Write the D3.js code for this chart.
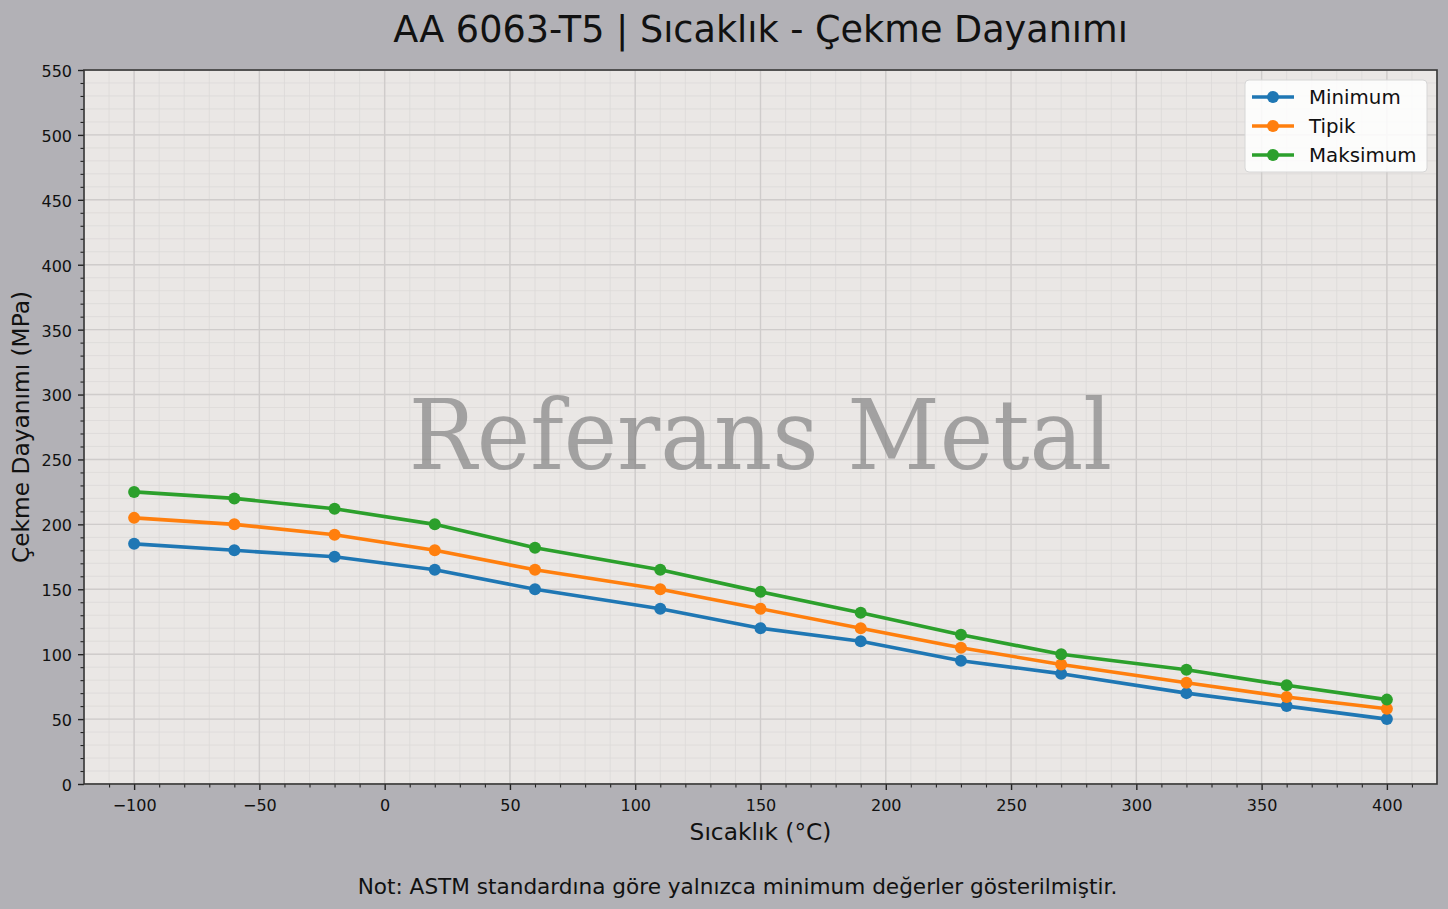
<!DOCTYPE html>
<html>
<head>
<meta charset="utf-8">
<script src="https://cdn.jsdelivr.net/npm/d3@7"></script>
<style>
  html, body { margin: 0; padding: 0; background: #b2b1b6; }
  svg { display: block; }
  text { font-family: "DejaVu Sans", sans-serif; }
</style>
</head>
<body>
<svg id="chart" width="1448" height="909"></svg>
<script>
const temps = [-100, -60, -20, 20, 60, 110, 150, 190, 230, 270, 320, 360, 400];
const minimum = [185, 180, 175, 165, 150, 135, 120, 110, 95, 85, 70, 60, 50];
const tipik = [205, 200, 192, 180, 165, 150, 135, 120, 105, 92, 78, 67, 58];
const maksimum = [225, 220, 212, 200, 182, 165, 148, 132, 115, 100, 88, 76, 65];
const seriesNames = ["Minimum", "Tipik", "Maksimum"];
const seriesColors = ["#1f77b4", "#ff7f0e", "#2ca02c"];
const xTicks = [-100, -50, 0, 50, 100, 150, 200, 250, 300, 350, 400];
const yTicks = [0, 50, 100, 150, 200, 250, 300, 350, 400, 450, 500, 550];
const titleText = "AA 6063-T5 | Sıcaklık - Çekme Dayanımı";
const xLabel = "Sıcaklık (°C)";
const yLabel = "Çekme Dayanımı (MPa)";
const noteText = "Not: ASTM standardına göre yalnızca minimum değerler gösterilmiştir.";
const watermark = "Referans Metal";

const svg = d3.select("#chart");
const W = 1448, H = 909;
const m = {left: 84, right: 1437, top: 70, bottom: 784};

svg.append("rect").attr("width", W).attr("height", H).attr("fill", "#b2b1b6");

const x = d3.scaleLinear().domain([-120, 420]).range([m.left, m.right]);
const y = d3.scaleLinear().domain([0, 550]).range([m.bottom, m.top]);

svg.append("rect")
  .attr("x", m.left).attr("y", m.top)
  .attr("width", m.right - m.left).attr("height", m.bottom - m.top)
  .attr("fill", "#eae7e5");

const xMinor = d3.range(-120, 421, 10);
const yMinor = d3.range(0, 551, 10);

const grid = svg.append("g");
grid.selectAll(".vxm").data(xMinor).join("line")
  .attr("x1", d => x(d)).attr("x2", d => x(d))
  .attr("y1", m.top).attr("y2", m.bottom)
  .attr("stroke", "#dcd9d8").attr("stroke-width", 0.8);
grid.selectAll(".hym").data(yMinor).join("line")
  .attr("y1", d => y(d)).attr("y2", d => y(d))
  .attr("x1", m.left).attr("x2", m.right)
  .attr("stroke", "#dcd9d8").attr("stroke-width", 0.8);
grid.selectAll(".vx").data(xTicks).join("line")
  .attr("x1", d => x(d)).attr("x2", d => x(d))
  .attr("y1", m.top).attr("y2", m.bottom)
  .attr("stroke", "#cfcccb").attr("stroke-width", 1.4);
grid.selectAll(".hy").data(yTicks).join("line")
  .attr("y1", d => y(d)).attr("y2", d => y(d))
  .attr("x1", m.left).attr("x2", m.right)
  .attr("stroke", "#cfcccb").attr("stroke-width", 1.4);

// watermark
svg.append("text")
  .attr("transform", `translate(${(m.left + m.right) / 2},469) scale(1,1.07)`)
  .attr("text-anchor", "middle")
  .style("font-family", "'DejaVu Serif', serif")
  .style("font-size", "90.3px")
  .attr("fill", "#808080").attr("fill-opacity", 0.68)
  .text(watermark);

const allSeries = [minimum, tipik, maksimum];
const line = d3.line().x((d, i) => x(temps[i])).y(d => y(d));
allSeries.forEach((vals, k) => {
  const g = svg.append("g");
  g.append("path").datum(vals)
    .attr("d", line).attr("fill", "none")
    .attr("stroke", seriesColors[k]).attr("stroke-width", 3.6)
    .attr("stroke-linejoin", "round").attr("stroke-linecap", "round");
  g.selectAll("circle").data(vals).join("circle")
    .attr("cx", (d, i) => x(temps[i])).attr("cy", d => y(d))
    .attr("r", 6).attr("fill", seriesColors[k]);
});

// axes
const xAxis = d3.axisBottom(x).tickValues(xTicks).tickSize(6).tickPadding(5)
  .tickFormat(d => d < 0 ? "\u2212" + Math.abs(d) : String(d));
const gx = svg.append("g").attr("transform", `translate(0,${m.bottom})`).call(xAxis);
const yAxis = d3.axisLeft(y).tickValues(yTicks).tickSize(6).tickPadding(6);
const gy = svg.append("g").attr("transform", `translate(${m.left},0)`).call(yAxis);
[gx, gy].forEach(g => {
  g.select(".domain").remove();
  g.selectAll(".tick line").attr("stroke", "#222").attr("stroke-width", 1.4);
  g.selectAll(".tick text").attr("fill", "#111")
    .style("font-family", "'DejaVu Sans', sans-serif").style("font-size", "16px");
});
gx.selectAll(".tick text").attr("y", 27).attr("dy", 0);
gy.selectAll(".tick text").attr("dy", "0.4em");

const gxm = svg.append("g").attr("transform", `translate(0,${m.bottom})`)
  .call(d3.axisBottom(x).tickValues(xMinor.filter(v => !xTicks.includes(v) && v > -120 && v < 420)).tickSize(3.5).tickFormat(""));
const gym = svg.append("g").attr("transform", `translate(${m.left},0)`)
  .call(d3.axisLeft(y).tickValues(yMinor.filter(v => !yTicks.includes(v))).tickSize(3.5).tickFormat(""));
[gxm, gym].forEach(g => {
  g.select(".domain").remove();
  g.selectAll(".tick line").attr("stroke", "#222").attr("stroke-width", 1.1);
});

svg.append("rect")
  .attr("x", m.left).attr("y", m.top)
  .attr("width", m.right - m.left).attr("height", m.bottom - m.top)
  .attr("fill", "none").attr("stroke", "#333").attr("stroke-width", 1.6);

svg.append("text").attr("x", (m.left + m.right) / 2).attr("y", 42)
  .attr("text-anchor", "middle").style("font-size", "36.6px").attr("fill", "#111")
  .text(titleText);
svg.append("text").attr("x", (m.left + m.right) / 2).attr("y", 840)
  .attr("text-anchor", "middle").style("font-size", "23.3px").attr("fill", "#111")
  .text(xLabel);
svg.append("text").attr("transform", `translate(29,${(m.top + m.bottom) / 2}) rotate(-90)`)
  .attr("text-anchor", "middle").style("font-size", "23.3px").attr("fill", "#111")
  .text(yLabel);
svg.append("text").attr("x", 737.5).attr("y", 894)
  .attr("text-anchor", "middle").style("font-size", "21.6px").attr("fill", "#111")
  .text(noteText);

const lg = svg.append("g");
lg.append("rect").attr("x", 1245).attr("y", 80).attr("width", 182).attr("height", 92)
  .attr("rx", 4).attr("fill", "#ffffff").attr("fill-opacity", 0.85)
  .attr("stroke", "#d6d6d6").attr("stroke-width", 1);
seriesNames.forEach((name, k) => {
  const cy = 97 + k * 29;
  lg.append("line").attr("x1", 1252).attr("x2", 1294).attr("y1", cy).attr("y2", cy)
    .attr("stroke", seriesColors[k]).attr("stroke-width", 3.6);
  lg.append("circle").attr("cx", 1273).attr("cy", cy).attr("r", 6).attr("fill", seriesColors[k]);
  lg.append("text").attr("x", 1309).attr("y", cy + 7).style("font-size", "19.8px")
    .attr("fill", "#111").text(name);
});
</script>
</body>
</html>
